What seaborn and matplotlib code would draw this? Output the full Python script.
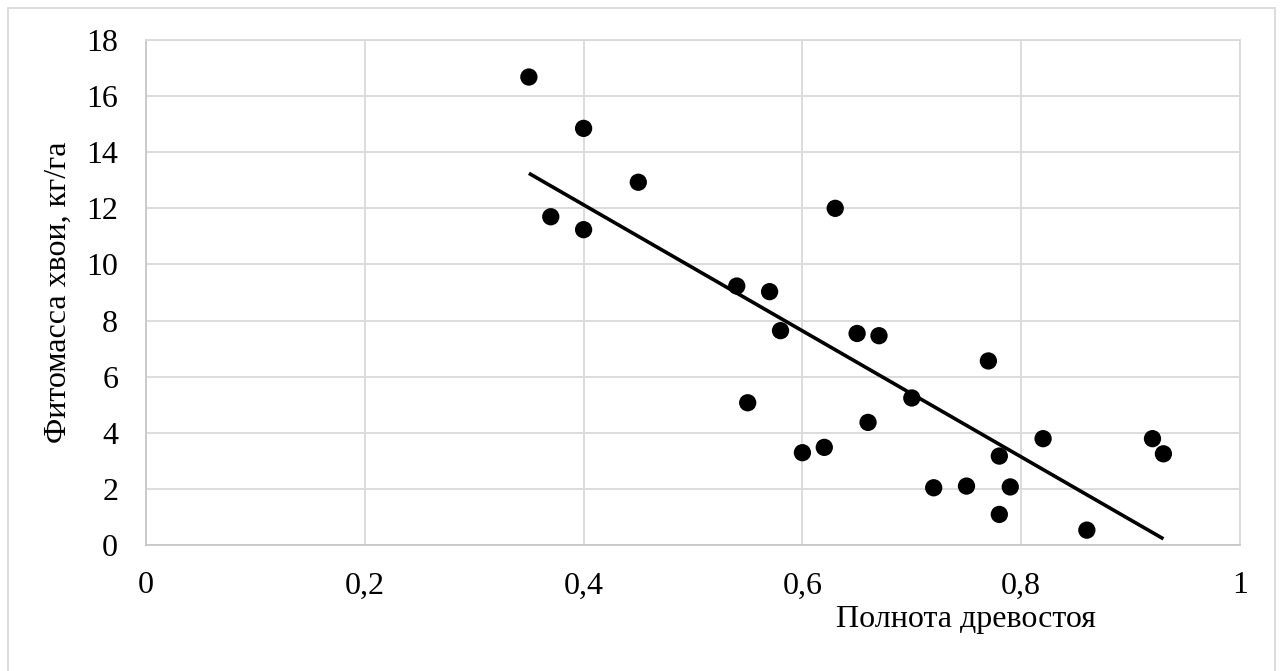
import numpy as np
import pandas as pd
import matplotlib
matplotlib.use("Agg")
import matplotlib.pyplot as plt
import seaborn as sns
from matplotlib.patches import Rectangle

# Data
polnota = [0.35, 0.37, 0.40, 0.40, 0.45, 0.54, 0.55, 0.57, 0.58, 0.60, 0.62, 0.63, 0.65,
           0.66, 0.67, 0.70, 0.72, 0.75, 0.77, 0.78, 0.78, 0.79, 0.82, 0.86, 0.92, 0.93]
fitomassa = [16.68, 11.70, 14.85, 11.24, 12.93, 9.23, 5.07, 9.03, 7.64, 3.29, 3.48, 12.00, 7.54,
             4.37, 7.46, 5.24, 2.04, 2.10, 6.56, 3.17, 1.09, 2.07, 3.79, 0.53, 3.79, 3.25]
x_ticks = [0, 0.2, 0.4, 0.6, 0.8, 1.0]
x_ticklabels = ["0", "0,2", "0,4", "0,6", "0,8", "1"]
y_ticks = [0, 2, 4, 6, 8, 10, 12, 14, 16, 18]
x_label = "Полнота древостоя"
y_label = "Фитомасса хвои, кг/га"

df = pd.DataFrame({"x": polnota, "y": fitomassa})

sns.set_theme(style="white")
plt.rcParams["font.family"] = ["Liberation Serif", "DejaVu Serif"]

W, H = 1282, 671
fig = plt.figure(figsize=(W / 100, H / 100), dpi=100)
ax = fig.add_axes([146 / W, 1 - 545 / H, (1240 - 146) / W, (545 - 40) / H])

sns.regplot(data=df, x="x", y="y", ax=ax, ci=None,
            scatter_kws=dict(s=155, color="black", alpha=1, edgecolor="none", zorder=3),
            line_kws=dict(color="black", lw=2.6, zorder=4, solid_capstyle="butt"))

ax.set_xlim(0, 1)
ax.set_ylim(0, 18)
ax.set_xticks(x_ticks)
ax.set_xticklabels(x_ticklabels)
ax.set_yticks(y_ticks)
ax.grid(True, color="#d9d9d9", lw=1.3)
ax.set_axisbelow(True)
for s in ax.spines.values():
    s.set_color("#d9d9d9")
    s.set_linewidth(1.3)
ax.spines["bottom"].set_color("#c8c8c8")
ax.spines["left"].set_color("#c8c8c8")
ax.tick_params(axis="both", length=0, labelsize=23, colors="black")
ax.tick_params(axis="y", pad=20)
ax.tick_params(axis="x", pad=19)

ax.set_xlabel(x_label, fontsize=23, color="black")
ax.set_ylabel(y_label, fontsize=23, color="black")
ax.xaxis.set_label_coords((966 - 146) / (1240 - 146), (545 - 619) / (545 - 40))
ax.xaxis.label.set_va("center")
ax.yaxis.set_label_coords((58 - 146) / (1240 - 146), (545 - 292) / (545 - 40))
ax.yaxis.label.set_va("center")

fig.patches.append(Rectangle((7.5 / W, -0.05), (1275 - 7.5) / W, 1 - 8 / H + 0.05,
                             transform=fig.transFigure, fill=False,
                             edgecolor="#d9d9d9", lw=1.3))

fig.savefig("out.png", dpi=100, facecolor="white")
